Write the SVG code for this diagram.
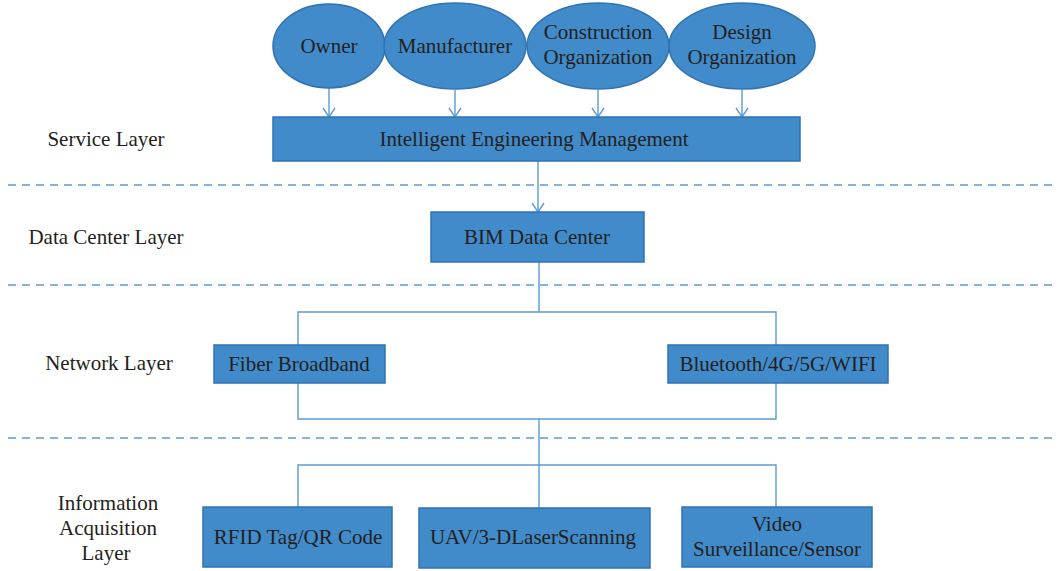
<svg xmlns="http://www.w3.org/2000/svg" width="1058" height="571" viewBox="0 0 1058 571">
  <style>
    .node { fill: #418bca; stroke: #2f73b3; stroke-width: 1.5; }
    .lbl { font-family: "Liberation Serif", "Times New Roman", serif; font-size: 21px; fill: #231f20; text-anchor: middle; }
    .layer { font-family: "Liberation Serif", "Times New Roman", serif; font-size: 21px; fill: #231f20; text-anchor: middle; }
    .conn { fill: none; stroke: #5b9bd5; stroke-width: 1.4; }
    .sep { fill: none; stroke: #5b9bd5; stroke-width: 1.4; stroke-dasharray: 8 6; }
  </style>
  <defs>
    <!-- open V arrowhead; marker x axis follows the line direction -->
    <marker id="arrow" markerWidth="12" markerHeight="14" refX="10.5" refY="7" orient="auto" markerUnits="userSpaceOnUse" viewBox="0 0 12 14">
      <polyline points="1.5,1 10.5,7 1.5,13" fill="none" stroke="#5b9bd5" stroke-width="1.4"/>
    </marker>
  </defs>
  <rect width="1058" height="571" fill="#ffffff"/>

  <!-- layer separators -->
  <g id="separators">
    <line class="sep" x1="8" y1="185" x2="1058" y2="185"/>
    <line class="sep" x1="8" y1="285" x2="1058" y2="285"/>
    <line class="sep" x1="8" y1="438" x2="1058" y2="438"/>
  </g>

  <!-- layer names -->
  <g id="layer-labels">
    <text class="layer" x="106" y="146">Service Layer</text>
    <text class="layer" x="106" y="244">Data Center Layer</text>
    <text class="layer" x="109" y="370">Network Layer</text>
    <text class="layer" x="108" y="510">Information</text>
    <text class="layer" x="108" y="535">Acquisition</text>
    <text class="layer" x="106" y="560">Layer</text>
  </g>

  <!-- connectors -->
  <g id="connectors">
    <line class="conn" x1="329" y1="88" x2="329" y2="117" marker-end="url(#arrow)"/>
    <line class="conn" x1="455" y1="90" x2="455" y2="117" marker-end="url(#arrow)"/>
    <line class="conn" x1="598" y1="90" x2="598" y2="117" marker-end="url(#arrow)"/>
    <line class="conn" x1="742" y1="90" x2="742" y2="117" marker-end="url(#arrow)"/>
    <line class="conn" x1="538" y1="161" x2="538" y2="212" marker-end="url(#arrow)"/>
    <polyline class="conn" points="539,262 539,312"/>
    <polyline class="conn" points="298,345 298,312 776,312 776,345"/>
    <polyline class="conn" points="298,383 298,419 776,419 776,383"/>
    <polyline class="conn" points="539,419 539,508"/>
    <polyline class="conn" points="298,507 298,465 776,465 776,507"/>
  </g>

  <!-- stakeholders -->
  <g id="owner">
    <ellipse class="node" cx="329" cy="46" rx="56" ry="42"/>
    <text class="lbl" x="329" y="53">Owner</text>
  </g>
  <g id="manufacturer">
    <ellipse class="node" cx="455" cy="46" rx="71" ry="43"/>
    <text class="lbl" x="455" y="53">Manufacturer</text>
  </g>
  <g id="construction-organization">
    <ellipse class="node" cx="598" cy="46" rx="71" ry="43"/>
    <text class="lbl" x="598" y="39">Construction</text>
    <text class="lbl" x="598" y="64">Organization</text>
  </g>
  <g id="design-organization">
    <ellipse class="node" cx="742" cy="46" rx="73" ry="43"/>
    <text class="lbl" x="742" y="39">Design</text>
    <text class="lbl" x="742" y="64">Organization</text>
  </g>

  <!-- service layer -->
  <g id="intelligent-engineering-management">
    <rect class="node" x="273" y="117" width="527" height="44"/>
    <text class="lbl" x="534" y="146">Intelligent Engineering Management</text>
  </g>

  <!-- data center layer -->
  <g id="bim-data-center">
    <rect class="node" x="431" y="212" width="213" height="50"/>
    <text class="lbl" x="537" y="244">BIM Data Center</text>
  </g>

  <!-- network layer -->
  <g id="fiber-broadband">
    <rect class="node" x="214" y="345" width="171" height="38"/>
    <text class="lbl" x="299" y="371">Fiber Broadband</text>
  </g>
  <g id="wireless">
    <rect class="node" x="668" y="345" width="220" height="38"/>
    <text class="lbl" x="778" y="371">Bluetooth/4G/5G/WIFI</text>
  </g>

  <!-- information acquisition layer -->
  <g id="rfid-qr">
    <rect class="node" x="203" y="507" width="189" height="60"/>
    <text class="lbl" x="298" y="544">RFID Tag/QR Code</text>
  </g>
  <g id="uav-laser">
    <rect class="node" x="419" y="508" width="231" height="60"/>
    <text class="lbl" x="533" y="544">UAV/3-DLaserScanning</text>
  </g>
  <g id="video-sensor">
    <rect class="node" x="682" y="507" width="190" height="60"/>
    <text class="lbl" x="777" y="531">Video</text>
    <text class="lbl" x="777" y="556">Surveillance/Sensor</text>
  </g>
</svg>
